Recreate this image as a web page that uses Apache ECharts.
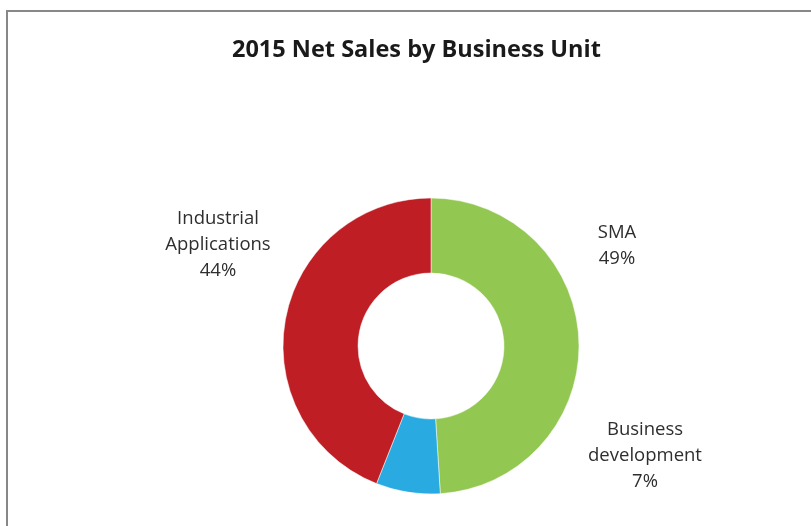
<!DOCTYPE html>
<html>
<head>
<meta charset="utf-8">
<script src="https://cdn.jsdelivr.net/npm/echarts@6/dist/echarts.min.js"></script>
<style>
  html, body { margin: 0; padding: 0; background: #ffffff; }
  #chart { width: 811px; height: 526px; }
</style>
</head>
<body>
<div id="chart"></div>
<script>
// Business units and their share of 2015 net sales (percent)
const units = ['SMA', 'Business development', 'Industrial Applications'];
const labelText = ['SMA', 'Business\ndevelopment', 'Industrial\nApplications'];
const shares = [49, 7, 44];
const colors = ['#92C851', '#29ABE2', '#BE1E24'];

// Where each label block sits (centre of the text block)
const labelSpots = [
  { x: 617, y: 246 },
  { x: 645, y: 456 },
  { x: 218, y: 245 }
];

const chart = echarts.init(document.getElementById('chart'), null, { renderer: 'canvas' });

chart.setOption({
  backgroundColor: '#ffffff',
  animation: false,
  title: {
    text: '2015 Net Sales by Business Unit',
    left: 227,
    top: 33,
    textStyle: {
      fontFamily: 'Open Sans',
      fontWeight: 'bold',
      fontSize: 23.5,
      color: '#1a1a1a'
    }
  },
  graphic: [{
    type: 'rect',
    silent: true,
    shape: { x: 7, y: 11, width: 830, height: 540 },
    style: { fill: 'none', stroke: '#888888', lineWidth: 2 }
  }],
  series: [{
    type: 'pie',
    center: [431, 346],
    radius: [73, 148],
    startAngle: 90,
    clockwise: true,
    avoidLabelOverlap: false,
    itemStyle: { borderColor: '#ffffff', borderWidth: 0.5 },
    label: {
      show: true,
      position: 'outside',
      formatter: p => labelText[p.dataIndex] + '\n' + p.value + '%',
      fontFamily: 'Open Sans',
      fontSize: 18.5,
      lineHeight: 26,
      color: '#2e2e2e',
      align: 'center',
      verticalAlign: 'middle'
    },
    labelLine: { show: false },
    labelLayout: params => ({
      x: labelSpots[params.dataIndex].x,
      y: labelSpots[params.dataIndex].y,
      align: 'center',
      verticalAlign: 'middle'
    }),
    emphasis: { disabled: true },
    data: units.map((name, i) => ({
      name: name,
      value: shares[i],
      itemStyle: { color: colors[i] }
    }))
  }]
});
</script>
</body>
</html>
